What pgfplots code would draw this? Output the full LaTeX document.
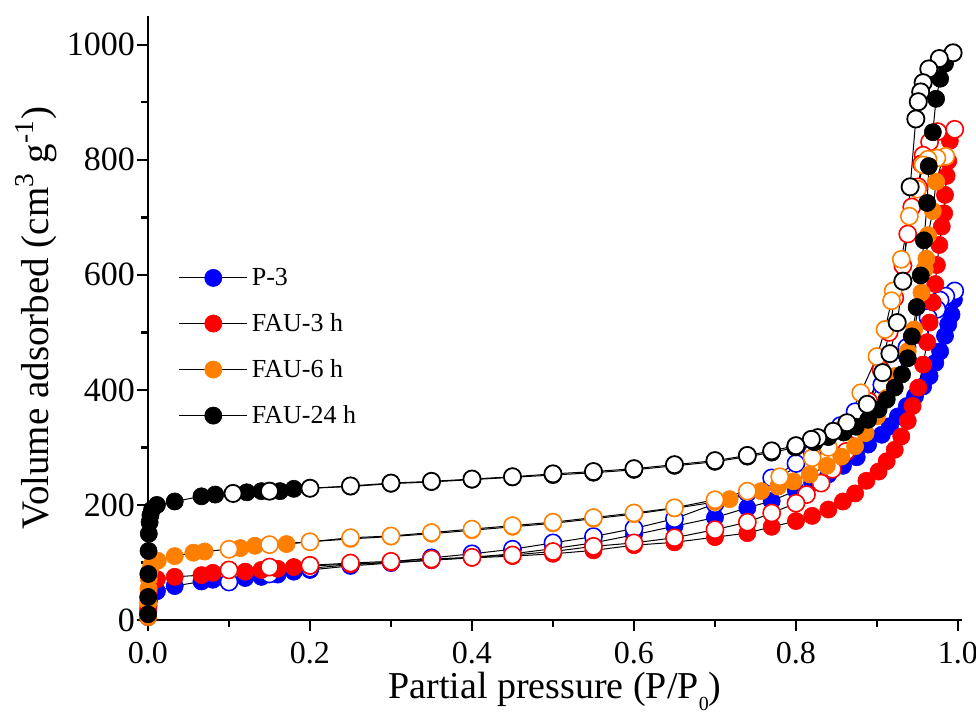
\documentclass[border=0pt]{standalone}
\usepackage{fontspec}
\setmainfont{Liberation Serif}
\usepackage{pgfplots}
\pgfplotsset{compat=1.18}
\definecolor{cblue}{RGB}{0,0,255}
\definecolor{cred}{RGB}{255,0,0}
\definecolor{corange}{RGB}{255,128,0}
\begin{document}
\begin{tikzpicture}
\begin{axis}[
  at={(0,0)}, anchor=south west,
  scale only axis, width=407pt, height=302pt,
  xmin=0, xmax=1.005, ymin=0, ymax=1050,
  axis x line*=bottom, axis y line*=left,
  axis line style={line width=1.3pt},
  xtick={0,0.2,0.4,0.6,0.8,1.0}, minor xtick={0.1,0.3,0.5,0.7,0.9},
  ytick={0,200,400,600,800,1000}, minor ytick={100,300,500,700,900},
  tick align=outside, major tick length=5.5pt, minor tick length=3.5pt,
  every tick/.style={line width=1.2pt, black},
  /pgf/number format/assume math mode=true,
  yticklabel style={font=\fontsize{17}{20}\selectfont},
  xticklabel style={font=\fontsize{16}{19}\selectfont},
  xticklabel style={yshift=-2pt, /pgf/number format/.cd, fixed, fixed zerofill, precision=1},
  yticklabel style={xshift=2.5pt, /pgf/number format/.cd, fixed, 1000 sep={}},
  xlabel={Partial pressure (P/P\raisebox{-0.3em}{\fontsize{10}{10}\selectfont 0})},
  ylabel={Volume adsorbed (cm\textsuperscript{3} g\textsuperscript{-1})},
  xlabel style={font=\fontsize{19}{23}\selectfont, at={(axis description cs:0.5,0)}, anchor=base, yshift=-39.5pt},
  ylabel style={font=\fontsize{19.5}{23}\selectfont, at={(axis description cs:-0.1376,0.5)}, anchor=center},
  legend style={at={(axis description cs:0.03,0.597)}, anchor=north west, draw=none, fill=none,
    font=\fontsize{13}{15}\selectfont, row sep=8.5pt},
  legend cell align=left,
  legend image code/.code={\draw[mark repeat=2,mark phase=2] plot coordinates {(0pt,0pt)(17pt,0pt)(34pt,0pt)};},
  every axis plot/.append style={line width=0.5pt, mark=*, mark size=4.3pt},
  clip=false,
]
% P-3 adsorption
\addplot[black, mark options={draw=cblue, fill=cblue, line width=0.3pt}] coordinates {
(0.0001,5)(0.0003,15)(0.0006,25)(0.001,33)(0.002,40)(0.004,45)(0.011,50)(0.033,59)(0.066,67)(0.08,70)(0.12,73)(0.14,75)(0.16,79)(0.18,84)(0.2,87)(0.25,94)(0.3,99)(0.35,104)(0.4,109)(0.45,115)(0.5,124)(0.55,134)(0.6,148)(0.65,163)(0.7,178)(0.74,195)(0.77,207)(0.8,225)(0.82,238)(0.84,253)(0.858,268)(0.875,283)(0.889,305)(0.906,322)(0.916,337)(0.926,354)(0.937,372)(0.947,389)(0.957,406)(0.965,424)(0.972,447)(0.978,467)(0.984,494)(0.988,514)(0.992,531)(0.995,557)};
\addlegendentry{P-3}
\addplot[forget plot, black, mark options={draw=cblue, fill=white, line width=0.8pt}] coordinates {
(0.996,572)(0.985,563)(0.978,556)(0.974,540)(0.963,526)(0.953,496)(0.937,474)(0.92,444)(0.906,409)(0.889,380)(0.873,362)(0.855,338)(0.838,311)(0.82,290)(0.8,272)(0.77,247)(0.74,221)(0.7,202)(0.65,176)(0.6,159)(0.55,145)(0.5,134)(0.45,123)(0.4,115)(0.35,108)(0.3,101)(0.25,96)(0.2,90)(0.15,80)(0.1,66)};
% FAU-3 h
\addplot[black, mark options={draw=cred, fill=cred, line width=0.3pt}] coordinates {
(0.0001,5)(0.0003,20)(0.0006,35)(0.001,48)(0.002,58)(0.004,65)(0.011,71)(0.033,75)(0.066,78)(0.08,82)(0.12,84)(0.14,87)(0.16,89)(0.18,92)(0.2,94)(0.25,97)(0.3,100)(0.35,104)(0.4,108)(0.45,111)(0.5,115)(0.55,121)(0.6,130)(0.65,135)(0.7,144)(0.74,151)(0.77,162)(0.8,172)(0.82,181)(0.84,192)(0.858,206)(0.873,220)(0.887,242)(0.902,258)(0.912,276)(0.922,296)(0.93,319)(0.938,346)(0.944,372)(0.951,404)(0.957,444)(0.962,483)(0.965,517)(0.969,552)(0.972,584)(0.974,617)(0.977,652)(0.98,684)(0.983,707)(0.984,739)(0.986,772)(0.988,798)(0.99,833)};
\addlegendentry{FAU-3 h}
\addplot[forget plot, black, mark options={draw=cred, fill=white, line width=0.8pt}] coordinates {
(0.996,853)(0.975,849)(0.965,831)(0.957,808)(0.955,793)(0.951,753)(0.943,718)(0.938,671)(0.932,616)(0.922,560)(0.915,500)(0.905,435)(0.89,380)(0.875,330)(0.862,293)(0.845,262)(0.831,238)(0.813,218)(0.8,203)(0.77,186)(0.74,170)(0.7,157)(0.65,143)(0.6,134)(0.55,128)(0.5,119)(0.45,113)(0.4,109)(0.35,106)(0.3,102)(0.25,99)(0.2,95)(0.15,92)(0.1,87)};
% FAU-6 h
\addplot[black, mark options={draw=corange, fill=corange, line width=0.3pt}] coordinates {
(0.0001,5)(0.0003,30)(0.0006,55)(0.001,72)(0.002,85)(0.004,95)(0.012,103)(0.033,111)(0.056,117)(0.07,119)(0.114,125)(0.132,129)(0.171,132)(0.2,136)(0.25,141)(0.3,145)(0.35,150)(0.4,156)(0.45,162)(0.5,168)(0.55,176)(0.6,184)(0.65,194)(0.7,205)(0.718,210)(0.757,224)(0.778,232)(0.797,241)(0.817,253)(0.838,268)(0.856,284)(0.873,302)(0.886,325)(0.9,354)(0.912,386)(0.922,424)(0.938,467)(0.946,505)(0.955,569)(0.959,610)(0.961,628)(0.963,669)(0.969,711)(0.973,762)(0.982,805)};
\addlegendentry{FAU-6 h}
\addplot[forget plot, black, mark options={draw=corange, fill=white, line width=0.8pt}] coordinates {
(0.985,806)(0.974,803)(0.963,801)(0.957,791)(0.95,749)(0.94,702)(0.93,627)(0.92,572)(0.918,555)(0.91,505)(0.9,458)(0.88,395)(0.86,335)(0.84,300)(0.82,282)(0.78,249)(0.74,224)(0.7,209)(0.65,195)(0.6,186)(0.55,178)(0.5,170)(0.45,164)(0.4,158)(0.35,152)(0.3,146)(0.25,143)(0.2,136)(0.15,131)(0.1,123)};
% FAU-24 h
\addplot[black, mark options={draw=black, fill=black, line width=0.3pt}] coordinates {
(0.0001,10)(0.0002,40)(0.0004,80)(0.0007,120)(0.001,150)(0.002,170)(0.003,182)(0.005,192)(0.011,200)(0.033,206)(0.066,215)(0.083,218)(0.122,222)(0.14,224)(0.163,224)(0.18,228)(0.2,229)(0.25,232)(0.3,237)(0.35,240)(0.4,244)(0.45,248)(0.5,252)(0.55,256)(0.6,261)(0.65,268)(0.7,275)(0.74,284)(0.77,291)(0.799,300)(0.823,309)(0.84,318)(0.859,326)(0.874,336)(0.889,348)(0.902,366)(0.912,383)(0.922,404)(0.931,427)(0.938,455)(0.943,493)(0.949,544)(0.954,599)(0.958,660)(0.962,725)(0.964,789)(0.969,848)(0.973,906)(0.978,941)(0.984,967)};
\addlegendentry{FAU-24 h}
\addplot[forget plot, black, mark options={draw=black, fill=white, line width=0.9pt}] coordinates {
(0.994,986)(0.977,976)(0.964,958)(0.957,934)(0.954,918)(0.951,901)(0.948,871)(0.941,753)(0.932,589)(0.925,517)(0.916,463)(0.907,430)(0.888,375)(0.863,343)(0.846,328)(0.827,317)(0.819,314)(0.8,303)(0.77,294)(0.74,286)(0.7,277)(0.65,270)(0.6,263)(0.55,258)(0.5,254)(0.45,249)(0.4,245)(0.35,241)(0.3,238)(0.25,233)(0.2,229)(0.15,224)(0.105,220)};
\end{axis}
\pgfresetboundingbox
\useasboundingbox (-74pt,-48pt) rectangle (414pt,310pt);
\end{tikzpicture}
\end{document}
